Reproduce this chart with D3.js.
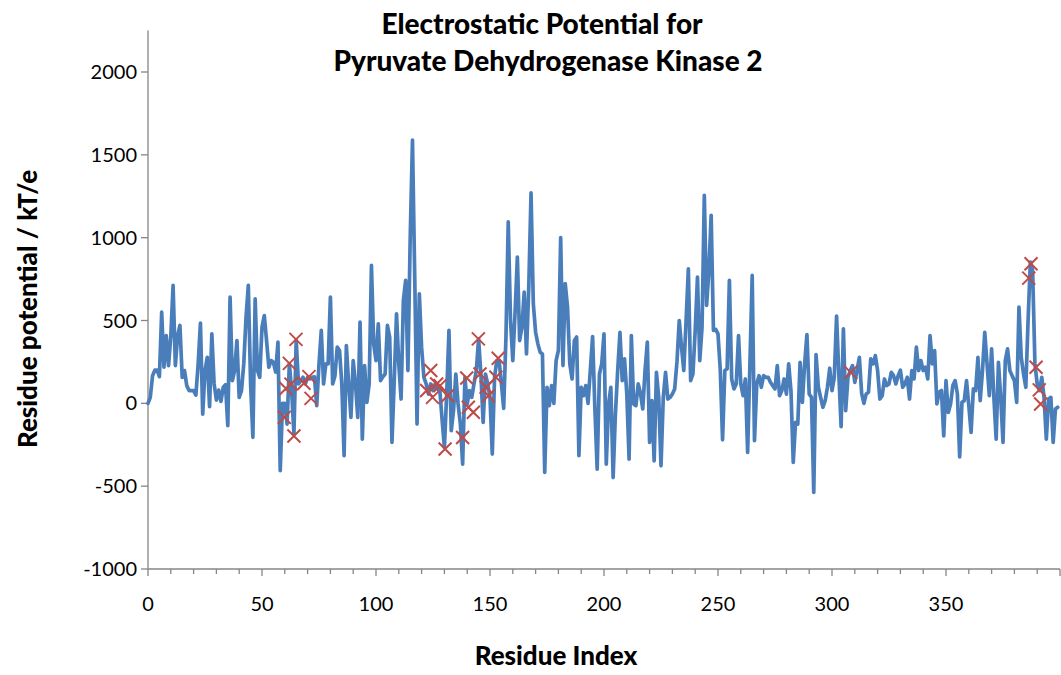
<!DOCTYPE html>
<html>
<head>
<meta charset="utf-8">
<script src="https://d3js.org/d3.v7.min.js"></script>
<style>
  body { margin: 0; background: #fff; }
  text { font-family: Lato, "Open Sans", sans-serif; fill: #000; }
</style>
</head>
<body>
<script>
// residue potential (kT/e), one value per residue starting at index 0
var potential = [
  0, 36, 167, 200, 200, 161, 550, 218, 409, 228, 403, 712, 228, 409, 470, 157, 198, 107, 77, 77,
  77, 50, 238, 484, -65, 198, 278, -20, 420, 117, 20, 80, 12, 97, 113, -135, 641, 137, 198, 379,
  36, 77, 238, 520, 712, 117, -205, 631, 198, 157, 460, 530, 379, 218, 258, 248, 188, 369, -407, 0,
  0, -125, 238, 77, -185, 379, 117, 137, 157, 117, 157, 147, 157, 160, -14, 238, 440, 117, 238, 238,
  641, 117, 167, 339, 319, 117, -316, 349, 117, -85, 258, 117, -85, 490, -216, 228, 6, 117, 833, 357,
  258, 480, 137, 160, 177, 470, 400, -236, 137, 540, 238, 26, 621, 742, 198, 1000, 1589, 750, -125, 661,
  339, 157, 117, 56, 117, 77, 117, 87, 77, -100, -266, 56, 440, -165, -44, 177, -4, -125, -367, 157,
  -4, 77, 36, 120, 198, 389, 177, -115, 177, 117, 36, -306, 157, 258, 258, 120, -30, 400, 1095, 500,
  258, 550, 883, 379, 459, 671, 298, 700, 1270, 600, 429, 359, 308, 298, -417, 97, -14, 107, 0, 258,
  319, 1000, 228, 722, 580, 238, 147, 379, 400, -316, 97, 46, 107, 0, 200, 403, -30, -397, 177, 238,
  419, -367, -4, 97, -448, -65, 198, 429, 137, 268, 56, -337, 409, -4, -14, 117, 60, -34, 198, 369,
  -236, 16, -347, 187, 36, -377, 36, 187, 26, 36, 56, 87, 250, 500, 339, 198, 500, 812, 137, 177,
  440, 762, 258, 459, 1256, 591, 801, 1135, 440, 446, 419, 200, -220, 198, 208, 742, 147, 87, 117, 409,
  117, 46, 147, -296, 238, 772, -226, 117, 167, 97, 167, 157, 157, 127, 107, 87, 228, 46, 77, 147,
  56, 238, 77, -357, -115, -125, 248, 6, 238, 415, 56, 36, -538, 294, 100, 36, -24, 16, 97, 212,
  77, 157, 526, 177, -141, 450, -44, 157, 198, 228, 127, 200, 278, 60, 0, 57, 67, 268, 238, 288,
  198, 26, 46, 147, 107, 117, 187, 167, 117, 167, 200, 97, 117, 157, 26, 198, 147, 339, 198, 258,
  198, 218, 147, 409, 238, 318, -4, 67, 77, -196, 137, -55, -4, 107, 137, 56, -323, 6, 16, 137,
  -14, -175, 87, 77, 278, 16, 198, 429, 238, 46, 329, 36, -216, 248, 36, -236, 258, 329, 198, 167,
  137, 6, 581, 278, 177, 97, 500, 853, 800, 238, 117, 77, 157, 36, -216, 26, 36, -236, -34, -24
];

// highlighted residues (red crosses)
var markerResidue = [59.8, 60.5, 62, 62.7, 64, 64.9, 68.4, 70.6, 71.5,
  122.2, 124, 124.8, 126.6, 128.1, 130.3, 131.4, 138, 139.8, 140.5, 142.7, 144.9, 145.6, 148.3, 149.3, 152.6, 153.6,
  308.2, 386.3, 387.3, 389.5, 390.9, 391.5];
var markerPotential = [-85, 90, 241, 116, -197, 386, 121, 161, 30,
  77, 198, 36, 117, 107, -276, 46, -206, 153, -24, -54, 389, 177, 97, 46, 157, 272,
  187, 756, 843, 218, 81, -4];

var yTicks = [-1000, -500, 0, 500, 1000, 1500, 2000];
var xTicks = [0, 50, 100, 150, 200, 250, 300, 350];
var xMinorTicks = d3.range(0, 401, 10);

var W = 1061, H = 675;
var svg = d3.select("body").append("svg")
  .attr("width", W).attr("height", H);

var x = d3.scaleLinear().domain([0, 400]).range([148, 1060]);
var y = d3.scaleLinear().domain([-1000, 2000]).range([569, 72]);
var yTop = 2250;

var axisColor = "#868686";

// y axis
svg.append("line")
  .attr("x1", x(0)).attr("x2", x(0))
  .attr("y1", y(yTop)).attr("y2", y(-1000))
  .attr("stroke", axisColor).attr("stroke-width", 1.3);
svg.selectAll(".ytick").data(yTicks).enter().append("line")
  .attr("x1", x(0) - 7).attr("x2", x(0))
  .attr("y1", function(d) { return y(d); }).attr("y2", function(d) { return y(d); })
  .attr("stroke", axisColor).attr("stroke-width", 1.3);
svg.selectAll(".ylab").data(yTicks).enter().append("text")
  .attr("x", 137).attr("y", function(d) { return y(d) + 7; })
  .attr("text-anchor", "end")
  .style("font-size", "20px")
  .text(function(d) { return d; });

// x axis, drawn at the bottom of the value range
svg.append("line")
  .attr("x1", x(0)).attr("x2", x(400))
  .attr("y1", y(-1000)).attr("y2", y(-1000))
  .attr("stroke", axisColor).attr("stroke-width", 1.3);
svg.selectAll(".xminor").data(xMinorTicks).enter().append("line")
  .attr("x1", function(d) { return x(d); }).attr("x2", function(d) { return x(d); })
  .attr("y1", y(-1000)).attr("y2", function(d) { return y(-1000) + (d % 50 === 0 ? 7 : 5); })
  .attr("stroke", axisColor).attr("stroke-width", 1.3);
svg.selectAll(".xlab").data(xTicks).enter().append("text")
  .attr("x", function(d) { return x(d); }).attr("y", 611)
  .attr("text-anchor", "middle")
  .style("font-size", "20px")
  .text(function(d) { return d; });

// the potential line
var line = d3.line()
  .x(function(d, i) { return x(i); })
  .y(function(d) { return y(d); });
svg.append("path")
  .datum(potential)
  .attr("d", line)
  .attr("fill", "none")
  .attr("stroke", "#4a7ebb")
  .attr("stroke-width", 3.7)
  .attr("stroke-linejoin", "round")
  .attr("stroke-linecap", "round");

// red crosses
var s = 6.5;
svg.selectAll(".mark").data(markerResidue).enter().append("path")
  .attr("d", function(d, i) {
    var cx = x(d), cy = y(markerPotential[i]);
    return "M" + (cx - s) + "," + (cy - s) + "L" + (cx + s) + "," + (cy + s) +
           "M" + (cx - s) + "," + (cy + s) + "L" + (cx + s) + "," + (cy - s);
  })
  .attr("stroke", "#be4b48").attr("stroke-width", 2).attr("fill", "none");

// titles
svg.append("text").attr("x", 542).attr("y", 34)
  .attr("text-anchor", "middle").style("font-size", "28px").style("font-weight", "900")
  .text("Electrostatic Potential for");
svg.append("text").attr("x", 548).attr("y", 71)
  .attr("text-anchor", "middle").style("font-size", "28px").style("font-weight", "900")
  .text("Pyruvate Dehydrogenase Kinase 2");
svg.append("text").attr("x", 556).attr("y", 665)
  .attr("text-anchor", "middle").style("font-size", "26px").style("font-weight", "900")
  .text("Residue Index");
svg.append("text")
  .attr("transform", "translate(37,309) rotate(-90)")
  .attr("text-anchor", "middle").style("font-size", "26px").style("font-weight", "900")
  .text("Residue potential / kT/e");
</script>
</body>
</html>
